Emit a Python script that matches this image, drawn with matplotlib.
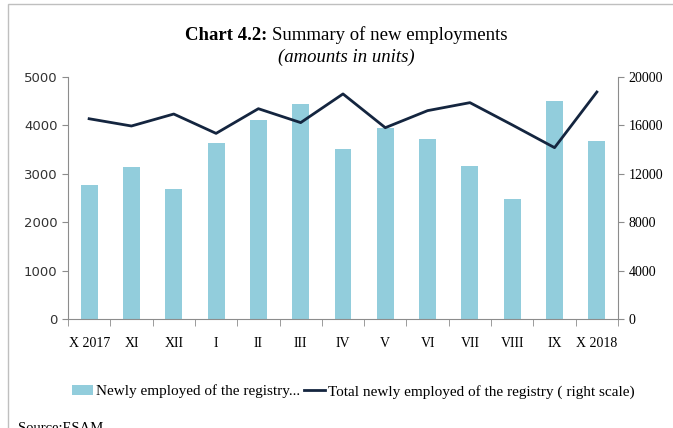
import numpy as np
import matplotlib
matplotlib.use('Agg')
import matplotlib.pyplot as plt
from matplotlib.patches import Rectangle

months = ['X 2017', 'XI', 'XII', 'I', 'II', 'III', 'IV', 'V', 'VI', 'VII', 'VIII', 'IX', 'X 2018']
newly_employed = [2770, 3140, 2690, 3640, 4110, 4440, 3510, 3950, 3720, 3160, 2480, 4500, 3680]
total_newly = [16550, 15950, 16940, 15340, 17380, 16230, 18600, 15810, 17220, 17880, 16040, 14160, 18760]

serif = 'Liberation Serif'
bar_col = '#92CDDC'
line_col = '#14253F'
grey = '#8C8C8C'

fig = plt.figure(figsize=(6.73, 4.28), dpi=100)
ax = fig.add_axes([0.101, 0.2547, 0.8173, 0.5654])
x = np.arange(len(months))
b = ax.bar(x, newly_employed, width=0.4, color=bar_col, label='Newly employed of the registry...')
ax.set_xlim(-0.5, len(months) - 0.5)
ax.set_ylim(0, 5000)
ax.set_yticks(range(0, 5001, 1000))
ax.set_xticks(x)
ax.set_xticklabels(months, fontfamily=serif, fontsize=10)
ax.set_xticks(np.arange(-0.5, len(months)), minor=True)
ax.tick_params(axis='x', which='major', length=0, pad=13)
ax.tick_params(axis='x', which='minor', length=5, color=grey, direction='out')
ax.tick_params(axis='y', length=4, color=grey, labelsize=9.5, labelcolor='#333333')
for s in ['top', 'right']:
    ax.spines[s].set_visible(False)
for s in ['left', 'bottom']:
    ax.spines[s].set_color(grey)

ax2 = ax.twinx()
l, = ax2.plot(x, total_newly, color=line_col, lw=2,
              label='Total newly employed of the registry ( right scale)')
ax2.set_ylim(0, 20000)
ax2.set_yticks(range(0, 20001, 4000))
ax2.tick_params(axis='y', length=4, color=grey, labelsize=10)
for lab in ax2.get_yticklabels():
    lab.set_fontfamily(serif)
for s in ['top', 'left', 'bottom']:
    ax2.spines[s].set_visible(False)
ax2.spines['right'].set_color(grey)

# title in two parts: bold prefix + regular text
t1 = fig.text(0.275, 0.906, 'Chart 4.2:', ha='left', va='baseline', fontsize=13.5,
              fontfamily=serif, fontweight='bold')
fig.add_artist(plt.Annotation('Summary of new employments', xy=(1, 0), xycoords=t1,
                              xytext=(3.5, 0), textcoords='offset points', ha='left',
                              va='bottom', fontsize=13.5, fontfamily=serif))
fig.text(0.515, 0.866, '(amounts in units)', ha='center', va='center',
         fontsize=13.5, fontfamily=serif, style='italic')

fig.legend(handles=[b, l], loc='center', bbox_to_anchor=(0.525, 0.085), ncol=2,
           frameon=False, prop={'family': serif, 'size': 11}, handlelength=1.4,
           handletextpad=0.2, columnspacing=0.2)

fig.text(0.027, 0.0, 'Source:ESAM .', ha='left', va='center', fontsize=10.5, fontfamily=serif)
fig.patches.append(Rectangle((0.012, -0.1), 1.2, 1.09, transform=fig.transFigure,
                             fill=False, edgecolor='#BFBFBF', lw=1))

fig.savefig('out.png', dpi=100)
